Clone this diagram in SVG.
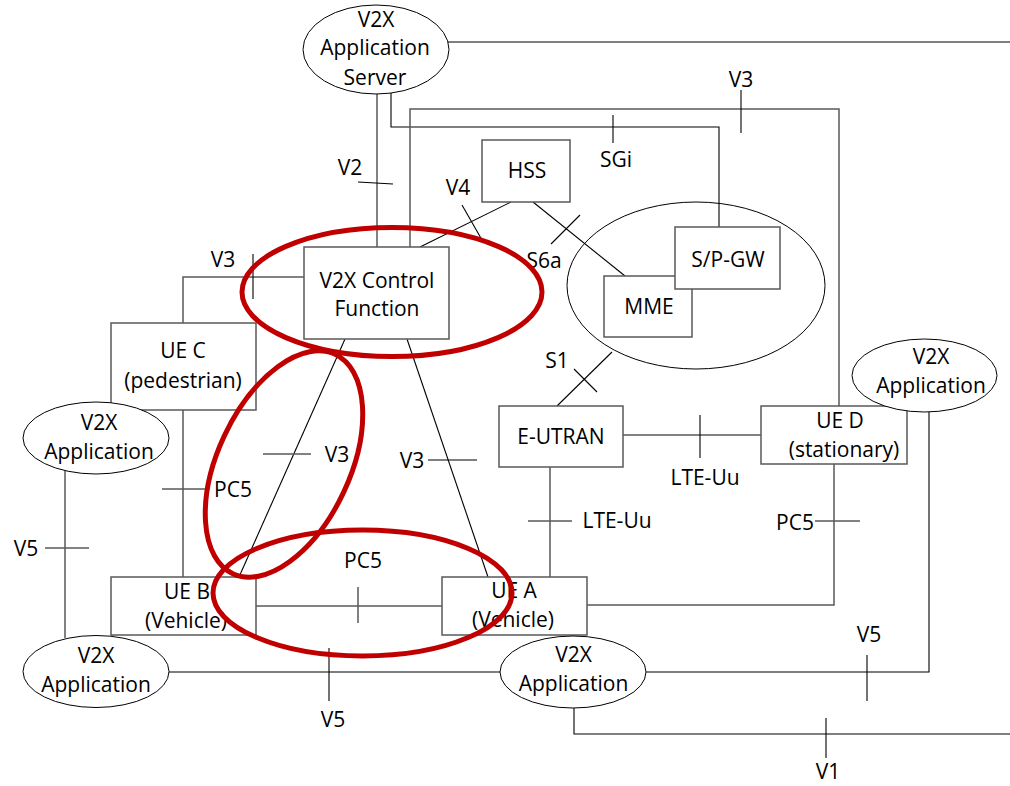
<svg xmlns="http://www.w3.org/2000/svg" width="1010" height="786" viewBox="0 0 1010 786">
<style>
text{font-family:"Open Sans","Liberation Sans",sans-serif;font-size:21px;fill:#000;text-anchor:middle}
.box{fill:#fff;stroke:#595959;stroke-width:1.5}
.ell{fill:#fff;stroke:#000;stroke-width:1}
.c{fill:none;stroke:#000;stroke-width:1.1}
.g{fill:none;stroke:#595959;stroke-width:1.5}
.red{fill:none;stroke:#C00000;stroke-width:5}
</style>
<rect width="1010" height="786" fill="#fff"/>
<g id="connectors">
<line class="c" x1="448" y1="42" x2="1010" y2="42"/>
<line class="g" x1="377" y1="94" x2="377" y2="247"/>
<polyline class="c" points="391,93 391,127 719,127 719,227"/>
<polyline class="g" points="410,247 410,109 839,109 839,406"/>
<line class="c" x1="511" y1="202" x2="420" y2="247"/>
<line class="c" x1="533" y1="202" x2="625" y2="276"/>
<polyline class="g" points="304,277 183,277 183,323"/>
<line class="g" x1="183" y1="410" x2="183" y2="577"/>
<line class="g" x1="256" y1="606" x2="442" y2="606"/>
<line class="g" x1="550" y1="467" x2="550" y2="577"/>
<polyline class="g" points="834,464 834,605 587,605"/>
<line class="c" x1="345" y1="339" x2="239" y2="577"/>
<line class="c" x1="407" y1="339" x2="488" y2="577"/>
<line class="c" x1="612" y1="352" x2="557" y2="406"/>
<line class="g" x1="623" y1="435" x2="761" y2="435"/>
<line class="g" x1="65" y1="471" x2="65" y2="638"/>
<line class="c" x1="169" y1="672" x2="500" y2="672"/>
<polyline class="c" points="929,412 929,672 646,672"/>
<polyline class="c" points="574,708 574,734 1010,734"/>
<line class="c" x1="741" y1="90" x2="741" y2="133"/>
<line class="c" x1="613" y1="115" x2="613" y2="143"/>
<line class="c" x1="358" y1="182" x2="393" y2="184"/>
<line class="c" x1="462" y1="205" x2="482" y2="240"/>
<line class="c" x1="551" y1="244" x2="580" y2="215"/>
<line class="c" x1="253" y1="254" x2="253" y2="299"/>
<line class="c" x1="574" y1="369" x2="597" y2="392"/>
<line class="c" x1="700" y1="415" x2="700" y2="458"/>
<line class="g" x1="263" y1="454" x2="311" y2="454"/>
<line class="c" x1="428" y1="460" x2="477" y2="460"/>
<line class="g" x1="162" y1="489" x2="205" y2="489"/>
<line class="g" x1="45" y1="548" x2="89" y2="548"/>
<line class="g" x1="528" y1="521" x2="572" y2="521"/>
<line class="g" x1="815" y1="521" x2="860" y2="521"/>
<line class="g" x1="358" y1="587" x2="358" y2="623"/>
<line class="c" x1="329" y1="648" x2="329" y2="701"/>
<line class="c" x1="867" y1="655" x2="867" y2="701"/>
<line class="c" x1="826" y1="718" x2="826" y2="758"/>
</g>
<g id="epc"><ellipse cx="696" cy="285.5" rx="129" ry="83.5" fill="none" stroke="#000" stroke-width="1"/></g>
<g id="app-server"><ellipse class="ell" cx="376" cy="49.5" rx="73" ry="44.5"/><text x="376" y="27">V2X</text><text x="375" y="55">Application</text><text x="375" y="85">Server</text></g>
<g id="hss"><rect class="box" x="482" y="140" width="88" height="62"/><text x="527" y="178">HSS</text></g>
<g id="cf"><rect class="box" x="304" y="247" width="145" height="92"/><text x="377" y="288">V2X Control</text><text x="377" y="316">Function</text></g>
<g id="mme"><rect class="box" x="604" y="276" width="88" height="61"/><text x="649" y="314">MME</text></g>
<g id="spgw"><rect class="box" x="675" y="227" width="105" height="62"/><text x="728" y="267">S/P-GW</text></g>
<g id="eutran"><rect class="box" x="499" y="406" width="124" height="61"/><text x="561" y="444">E-UTRAN</text></g>
<g id="ued"><rect class="box" x="761" y="406" width="146" height="58"/><text x="840" y="428">UE D</text><text x="844" y="457">(stationary)</text></g>
<g id="app-d"><ellipse class="ell" cx="924.5" cy="375.5" rx="72.5" ry="36.5"/><text x="931" y="364">V2X</text><text x="931" y="393">Application</text></g>
<g id="uec"><rect class="box" x="111" y="323" width="145" height="87"/><text x="183" y="358">UE C</text><text x="183" y="388">(pedestrian)</text></g>
<g id="app-c"><ellipse class="ell" cx="96" cy="438" rx="73" ry="36"/><text x="99" y="430">V2X</text><text x="99" y="459">Application</text></g>
<g id="ueb"><rect class="box" x="111" y="577" width="145" height="58"/><text x="187" y="599">UE B</text><text x="186" y="628">(Vehicle)</text></g>
<g id="uea"><rect class="box" x="442" y="577" width="145" height="58"/><text x="514" y="598">UE A</text><text x="513" y="627">(Vehicle)</text></g>
<g id="app-b"><ellipse class="ell" cx="96" cy="671.5" rx="73" ry="36"/><text x="96" y="663">V2X</text><text x="96" y="692">Application</text></g>
<g id="app-a"><ellipse class="ell" cx="573" cy="672" rx="73" ry="36"/><text x="573.5" y="662">V2X</text><text x="573.5" y="691">Application</text></g>
<g id="labels">
<text x="741" y="87">V3</text>
<text x="616" y="167">SGi</text>
<text x="350" y="175">V2</text>
<text x="458" y="195">V4</text>
<text x="223" y="267">V3</text>
<text x="544" y="268">S6a</text>
<text x="557" y="368">S1</text>
<text x="705" y="485">LTE-Uu</text>
<text x="337" y="462">V3</text>
<text x="412" y="468">V3</text>
<text x="233" y="497">PC5</text>
<text x="617" y="528">LTE-Uu</text>
<text x="795" y="530">PC5</text>
<text x="26" y="556">V5</text>
<text x="363" y="568">PC5</text>
<text x="333" y="727">V5</text>
<text x="869" y="642">V5</text>
<text x="828" y="779">V1</text>
</g>
<g id="highlights">
<ellipse class="red" cx="392" cy="292" rx="150" ry="64.5"/>
<ellipse class="red" cx="284" cy="464" rx="66" ry="121" transform="rotate(25 284 464)"/>
<ellipse class="red" cx="362.5" cy="593" rx="149.5" ry="63"/>
</g>
</svg>
